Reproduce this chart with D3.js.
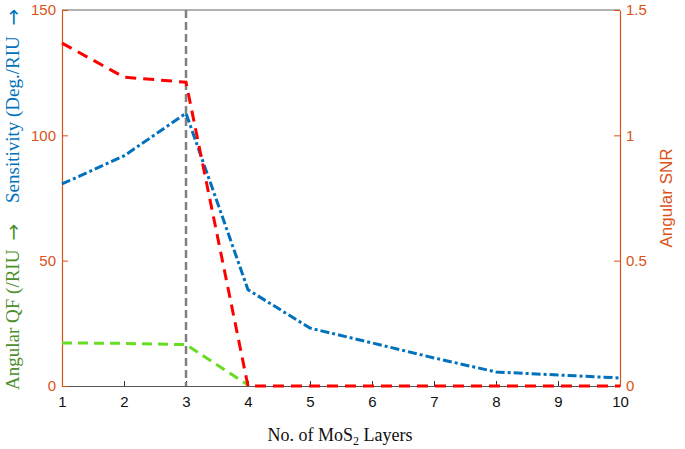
<!DOCTYPE html>
<html><head><meta charset="utf-8">
<script src="https://cdn.jsdelivr.net/npm/d3@7"></script>
<style>body{margin:0;background:#fff}svg{display:block}</style>
</head><body><svg id="c" width="685" height="449"></svg>
<script>
const layers = [1,2,3,4,5,6,7,8,9,10];
const sensitivity = [80.6, 91.8, 108.8, 38.4, 23.1, 17.2, 11.2, 5.6, 4.4, 3.2];
const snr = [1.368, 1.232, 1.212, 0, 0, 0, 0, 0, 0, 0];
const qfLayers = [1,2,3,4];
const qf = [17.2, 17.0, 16.5, 0.4];
const xTicks = [1,2,3,4,5,6,7,8,9,10];
const leftTicks = [0,50,100,150];
const rightTicks = [0,0.5,1,1.5];

const svg = d3.select("#c");
const L=62,R=620,T=10,B=386;
const x = d3.scaleLinear().domain([1,10]).range([L,R]);
const yL = d3.scaleLinear().domain([0,150]).range([B,T]);
const yR = d3.scaleLinear().domain([0,1.5]).range([B,T]);
const orange="#D95319", blue="#0072BD", red="#FF0000", lime="#66DD22", gray="#808080";

svg.append("line").attr("x1",L).attr("x2",R).attr("y1",T).attr("y2",T).attr("stroke","#666").attr("stroke-width",1.2);

const gx = svg.append("g").attr("transform",`translate(0,${B})`)
  .call(d3.axisBottom(x).tickValues(xTicks).tickFormat(d3.format("d")).tickSizeInner(-5).tickSizeOuter(0).tickPadding(10));
gx.select(".domain").attr("stroke","#555").attr("stroke-width",1.2);
gx.selectAll(".tick line").attr("stroke","#333");
gx.selectAll("text").attr("font-family","Liberation Sans, Arial, sans-serif").attr("font-size",15).attr("fill","#111");

const gl = svg.append("g").attr("transform",`translate(${L},0)`)
  .call(d3.axisLeft(yL).tickValues(leftTicks).tickSizeInner(-6).tickSizeOuter(0).tickPadding(6));
gl.select(".domain").attr("stroke",orange).attr("stroke-width",1.2);
gl.selectAll(".tick line").attr("stroke",orange);
gl.selectAll("text").attr("font-family","Liberation Sans, Arial, sans-serif").attr("font-size",15).attr("fill",orange);

const gr = svg.append("g").attr("transform",`translate(${R},0)`)
  .call(d3.axisRight(yR).tickValues(rightTicks).tickFormat(d=>String(d)).tickSizeInner(-6).tickSizeOuter(0).tickPadding(6));
gr.select(".domain").attr("stroke",orange).attr("stroke-width",1.2);
gr.selectAll(".tick line").attr("stroke",orange);
gr.selectAll("text").attr("font-family","Liberation Sans, Arial, sans-serif").attr("font-size",15).attr("fill",orange);

svg.append("line").attr("x1",x(3)).attr("x2",x(3)).attr("y1",T).attr("y2",B)
  .attr("stroke",gray).attr("stroke-width",2.5).attr("stroke-dasharray","8,4");

const line = (ys, sc, xs) => d3.line().x((d,i)=>x(xs[i])).y(d=>sc(d))(ys);

svg.append("path").attr("d",line(qf,yL,qfLayers)).attr("fill","none").attr("stroke",lime)
  .attr("stroke-width",3).attr("stroke-dasharray","10,6");
svg.append("path").attr("d",line(sensitivity,yL,layers)).attr("fill","none").attr("stroke",blue)
  .attr("stroke-width",3).attr("stroke-dasharray","9,3,3,3");
svg.append("path").attr("d",line(snr,yR,layers)).attr("fill","none").attr("stroke",red)
  .attr("stroke-width",3).attr("stroke-dasharray","11,7");

const serif = "Liberation Serif, Times New Roman, serif";
const green = "#4E8F2E";
svg.append("text").attr("transform","translate(19,390) rotate(-90)")
  .attr("font-family",serif).attr("font-size",19).attr("fill",green).text("Angular QF (/RIU");
svg.append("text").attr("transform","translate(19,203) rotate(-90)")
  .attr("font-family",serif).attr("font-size",19).attr("fill",blue).text("Sensitivity (Deg./RIU");
// arrows
[[232, green],[17, blue]].forEach(([yy,c])=>{
  svg.append("text").attr("transform",`translate(13,${yy}) rotate(-90)`)
    .attr("text-anchor","middle").attr("dominant-baseline","central")
    .attr("font-family","DejaVu Sans, sans-serif").attr("font-size",20).attr("fill",c).text("\u2192");
});

svg.append("text").attr("transform",`translate(672,198) rotate(-90)`).attr("text-anchor","middle")
  .attr("font-family","Liberation Sans, Arial, sans-serif").attr("font-size",17).attr("fill",orange).text("Angular SNR");

const xt = svg.append("text").attr("x",340).attr("y",441).attr("text-anchor","middle")
  .attr("font-family",serif).attr("font-size",18).attr("fill","#111");
xt.append("tspan").text("No. of MoS");
xt.append("tspan").attr("font-size",12).attr("dy",4).text("2");
xt.append("tspan").attr("dy",-4).text(" Layers");
</script></body></html>
